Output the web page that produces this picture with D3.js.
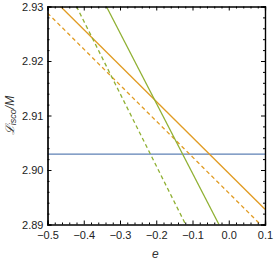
<!DOCTYPE html>
<html>
<head>
<meta charset="utf-8">
<script src="https://cdn.jsdelivr.net/npm/d3@7"></script>
<style>
  body { margin: 0; background: #fff; }
  svg text { font-family: "Liberation Sans", Arial, sans-serif; }
</style>
</head>
<body>
<svg id="chart" width="274" height="263"></svg>
<script>
// tick values
const xTicks = [-0.5, -0.4, -0.3, -0.2, -0.1, 0.0, 0.1];
const yTicks = [2.89, 2.90, 2.91, 2.92, 2.93];

// each line: two end points [e, L/M]
const blueLine = [[-0.5, 2.9029], [0.1, 2.9029]];
const orangeSolid = [[-0.464, 2.93], [0.1, 2.8928]];
const orangeDashed = [[-0.5, 2.9288], [0.0876, 2.89]];
const greenSolid = [[-0.3375, 2.93], [-0.027, 2.89]];
const greenDashed = [[-0.42, 2.93], [-0.119, 2.89]];

const series = [
  { pts: blueLine, color: "#5e81b5", dash: null },
  { pts: orangeSolid, color: "#e19c24", dash: null },
  { pts: orangeDashed, color: "#e19c24", dash: "4,3" },
  { pts: greenSolid, color: "#8fb032", dash: null },
  { pts: greenDashed, color: "#8fb032", dash: "4,3" }
];

const svg = d3.select("#chart");
const margin = { top: 6.5, right: 9, bottom: 38.5, left: 47.5 };
const width = 274, height = 263;

const x = d3.scaleLinear().domain([-0.5, 0.1]).range([margin.left, width - margin.right]);
const y = d3.scaleLinear().domain([2.89, 2.93]).range([height - margin.bottom, margin.top]);

svg.append("clipPath").attr("id", "clip")
  .append("rect")
  .attr("x", margin.left).attr("y", margin.top)
  .attr("width", x(0.1) - x(-0.5)).attr("height", y(2.89) - y(2.93));

const line = d3.line().x(d => x(d[0])).y(d => y(d[1]));

svg.append("g").attr("clip-path", "url(#clip)")
  .selectAll("path")
  .data(series)
  .join("path")
  .attr("d", d => line(d.pts))
  .attr("fill", "none")
  .attr("stroke", d => d.color)
  .attr("stroke-width", 1.3)
  .attr("stroke-dasharray", d => d.dash);

// minor tick values
const xMinor = d3.range(-0.5, 0.1001, 0.02).filter(v => !xTicks.some(t => Math.abs(t - v) < 1e-6));
const yMinor = d3.range(2.89, 2.9301, 0.002).filter(v => !yTicks.some(t => Math.abs(t - v) < 1e-6));

const fmtX = d => d3.format(".1f")(d).replace("-", "\u2212");
const fmtY = d3.format(".2f");

// bottom / top
svg.append("g").attr("transform", `translate(0,${y(2.89)})`)
  .call(d3.axisBottom(x).tickValues(xTicks).tickSize(-4).tickPadding(7).tickFormat(fmtX));
svg.append("g").attr("transform", `translate(0,${y(2.89)})`)
  .call(d3.axisBottom(x).tickValues(xMinor).tickSize(-2).tickFormat(""));
svg.append("g").attr("transform", `translate(0,${y(2.93)})`)
  .call(d3.axisTop(x).tickValues(xTicks).tickSize(-4).tickFormat(""));
svg.append("g").attr("transform", `translate(0,${y(2.93)})`)
  .call(d3.axisTop(x).tickValues(xMinor).tickSize(-2).tickFormat(""));

// left / right
svg.append("g").attr("transform", `translate(${x(-0.5)},0)`)
  .call(d3.axisLeft(y).tickValues(yTicks).tickSize(-4).tickPadding(4).tickFormat(fmtY));
svg.append("g").attr("transform", `translate(${x(-0.5)},0)`)
  .call(d3.axisLeft(y).tickValues(yMinor).tickSize(-2).tickFormat(""));
svg.append("g").attr("transform", `translate(${x(0.1)},0)`)
  .call(d3.axisRight(y).tickValues(yTicks).tickSize(-4).tickFormat(""));
svg.append("g").attr("transform", `translate(${x(0.1)},0)`)
  .call(d3.axisRight(y).tickValues(yMinor).tickSize(-2).tickFormat(""));

svg.selectAll(".domain").attr("stroke", "#000").attr("stroke-width", 1.2);
svg.selectAll(".tick line").attr("stroke", "#000");
svg.selectAll(".tick text").attr("font-size", 11).attr("fill", "#222")
  .attr("font-family", "'Liberation Sans', Arial, sans-serif");

// axis labels
svg.append("text")
  .attr("x", (x(-0.5) + x(0.1)) / 2 - 1)
  .attr("y", 258)
  .attr("text-anchor", "middle")
  .attr("font-family", "'DejaVu Serif', 'Liberation Serif', serif")
  .attr("font-style", "italic")
  .attr("font-size", 12)
  .attr("fill", "#333")
  .text("e");

const yl = svg.append("text")
  .attr("transform", `translate(14,${(y(2.89) + y(2.93)) / 2}) rotate(-90)`)
  .attr("text-anchor", "middle")
  .attr("font-family", "'Liberation Serif', serif")
  .attr("font-style", "italic")
  .attr("font-size", 12)
  .attr("fill", "#333");
yl.append("tspan").text("\u2112");
yl.append("tspan").attr("font-size", 9).attr("dy", 2).text("isco");
yl.append("tspan").attr("dy", -2).text("/M");
</script>
</body>
</html>
